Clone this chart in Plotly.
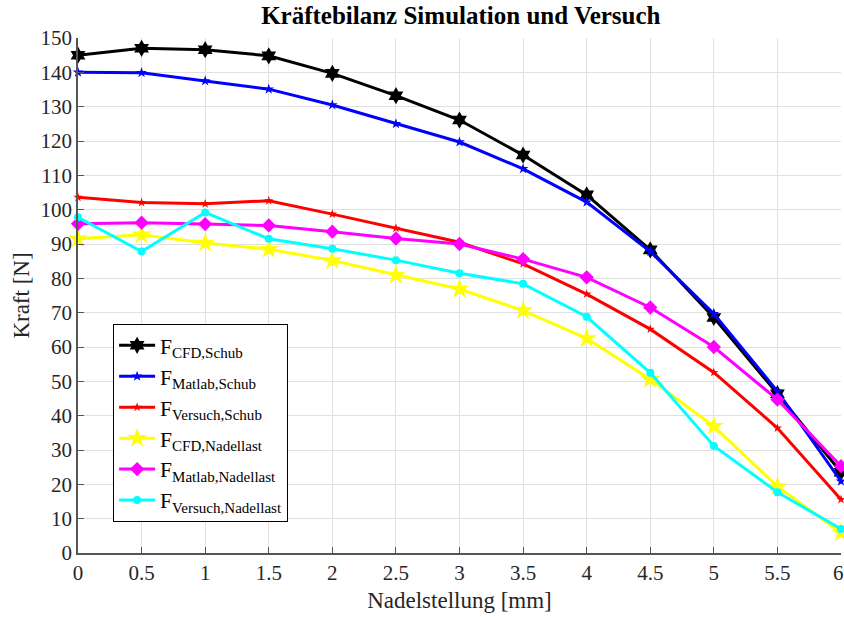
import plotly.graph_objects as go

# Nadelstellung in mm
nadelstellung = [0, 0.5, 1, 1.5, 2, 2.5, 3, 3.5, 4, 4.5, 5, 5.5, 6]
tick_labels = ["0", "0.5", "1", "1.5", "2", "2.5", "3", "3.5", "4", "4.5", "5", "5.5", "6"]

# Kräfte in N
f_cfd_schub = [145.0, 147.0, 146.6, 144.8, 139.7, 133.2, 126.1, 115.9, 104.3, 88.3, 68.6, 46.4, 23.5]
f_matlab_schub = [140.0, 139.9, 137.5, 135.1, 130.5, 125.0, 119.7, 111.9, 102.2, 87.8, 69.7, 47.1, 20.9]
f_versuch_schub = [103.6, 102.1, 101.7, 102.6, 98.7, 94.6, 90.5, 84.2, 75.4, 65.2, 52.6, 36.4, 15.6]
f_cfd_nadellast = [91.5, 92.7, 90.3, 88.5, 85.2, 81.0, 76.9, 70.6, 62.5, 50.6, 36.9, 19.4, 5.9]
f_matlab_nadellast = [95.9, 96.2, 95.8, 95.4, 93.6, 91.6, 90.0, 85.6, 80.3, 71.5, 60.0, 44.7, 25.3]
f_versuch_nadellast = [97.8, 87.8, 99.2, 91.5, 88.6, 85.3, 81.5, 78.4, 68.8, 52.5, 31.2, 17.7, 7.0]

series = [
    ("F<sub>CFD,Schub</sub>", f_cfd_schub, "#000000", "hexagram", 13),
    ("F<sub>Matlab,Schub</sub>", f_matlab_schub, "#0000ff", "star", 8),
    ("F<sub>Versuch,Schub</sub>", f_versuch_schub, "#ff0000", "star", 7),
    ("F<sub>CFD,Nadellast</sub>", f_cfd_nadellast, "#ffff00", "star", 15),
    ("F<sub>Matlab,Nadellast</sub>", f_matlab_nadellast, "#ff00ff", "diamond", 11),
    ("F<sub>Versuch,Nadellast</sub>", f_versuch_nadellast, "#00ffff", "circle", 8),
]

serif = "Liberation Serif, Times New Roman, serif"
tick_font = dict(family=serif, size=21, color="#262626")

fig = go.Figure()
for name, values, color, symbol, size in series:
    fig.add_trace(go.Scatter(
        x=nadelstellung, y=values, name=name, mode="lines+markers",
        line=dict(color=color, width=3),
        marker=dict(symbol=symbol, size=size, color=color, line=dict(width=0)),
        cliponaxis=False,
    ))

axis_common = dict(
    showline=True, linecolor="#555555", linewidth=1.5, mirror=False,
    ticks="inside", ticklen=6, tickcolor="#555555",
    showgrid=True, gridcolor="#e0e0e0", gridwidth=1, zeroline=False,
    tickfont=tick_font,
)

fig.update_layout(
    width=844, height=617,
    margin=dict(l=78, r=3, t=38, b=64),
    paper_bgcolor="white", plot_bgcolor="white",
    title=dict(text="<b>Kräftebilanz Simulation und Versuch</b>", x=0.546, xanchor="center",
               y=0.975, yanchor="middle", font=dict(family=serif, size=25, color="#000000")),
    xaxis=dict(range=[0, 6], tickvals=nadelstellung, ticktext=tick_labels,
               title=dict(text="Nadelstellung [mm]", font=dict(family=serif, size=23, color="#262626"),
                          standoff=8),
               **axis_common),
    yaxis=dict(range=[0, 150], tickvals=list(range(0, 151, 10)),
               title=dict(text="Kraft [N]", font=dict(family=serif, size=23, color="#262626"),
                          standoff=4),
               **axis_common),
    legend=dict(x=0.046, y=0.445, xanchor="left", yanchor="top",
                bgcolor="white", bordercolor="#000000", borderwidth=1,
                font=dict(family=serif, size=21.5, color="#000000"),
                itemwidth=36, tracegroupgap=0),
    showlegend=True,
)

# last tick label sits at the page edge, where the axis drops it; draw it as text
fig.add_annotation(x=nadelstellung[-1], y=0, xref="x", yref="paper", yshift=-6, xshift=-3,
                   text=tick_labels[-1], showarrow=False, yanchor="top", xanchor="center",
                   font=tick_font)

fig.write_html("out.html")
